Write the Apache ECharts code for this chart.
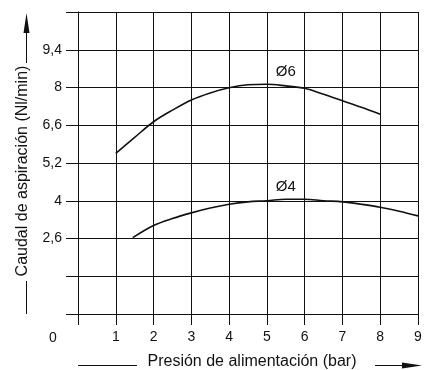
<!DOCTYPE html>
<html>
<head>
<meta charset="utf-8">
<script src="https://cdn.jsdelivr.net/npm/echarts@6/dist/echarts.min.js"></script>
<style>
  html, body { margin: 0; padding: 0; background: #fff; }
  #chart { width: 434px; height: 370px; }
</style>
</head>
<body>
<div id="chart"></div>
<script>
// Supply pressure (bar) and suction flow (Nl/min) for each nozzle size
const pressure6 = [1, 1.5, 2, 2.5, 3, 3.5, 4, 4.5, 5, 5.5, 6, 6.5, 7, 7.5, 8];
const flow6     = [5.56, 6.15, 6.73, 7.16, 7.54, 7.80, 7.99, 8.10, 8.12, 8.06, 7.97, 7.75, 7.51, 7.27, 7.01];
const pressure4 = [1.45, 2, 2.5, 3, 3.5, 4, 4.5, 5, 5.5, 6, 6.5, 7, 7.5, 8, 8.5, 9];
const flow4     = [2.63, 3.08, 3.34, 3.55, 3.73, 3.87, 3.96, 4.00, 4.05, 4.05, 4.00, 3.96, 3.87, 3.76, 3.61, 3.44];

// Pressure axis ticks
const xTickLabels = ['', '1', '2', '3', '4', '5', '6', '7', '8', '9'];
// Flow axis: one entry per grid row from bottom to top (the scale is drawn on equal rows)
const yTickValues = [null, null, 2.6, 4, 5.2, 6.6, 8, 9.4, null];
const yTickLabels = ['', '', '2,6', '4', '5,2', '6,6', '8', '9,4', ''];

const curveNames = ['Ø6', 'Ø4'];
const xTitle = 'Presión de alimentación (bar)';
const yTitle = 'Caudal de aspiración (Nl/min)';

// Map a flow value onto the row scale by interpolating between labelled rows
function toRow(v) {
  const idx = [];
  yTickValues.forEach((t, i) => { if (t !== null) idx.push(i); });
  for (let k = 0; k < idx.length - 1; k++) {
    const a = idx[k], b = idx[k + 1];
    const va = yTickValues[a], vb = yTickValues[b];
    if (v <= vb || k === idx.length - 2) {
      return a + (v - va) / (vb - va) * (b - a);
    }
  }
}

const pairs = (xs, ys) => xs.map((x, i) => [x, toRow(ys[i])]);

const FONT = "'Liberation Sans', Arial, Helvetica, sans-serif";
const INK = '#111';

const chart = echarts.init(document.getElementById('chart'), null, { renderer: 'canvas' });

function curve(name, xs, ys, labelAt, dist) {
  return {
    type: 'line',
    name: name,
    data: pairs(xs, ys),
    smooth: 0.35,
    showSymbol: false,
    silent: true,
    lineStyle: { color: INK, width: 1.6 },
    markPoint: {
      symbol: 'circle',
      symbolSize: 0,
      silent: true,
      data: [{
        coord: [xs[labelAt], toRow(ys[labelAt])],
        label: {
          show: true, position: 'top', distance: dist, formatter: name,
          color: INK, fontSize: 15, fontFamily: FONT
        }
      }]
    }
  };
}

chart.setOption({
  animation: false,
  backgroundColor: '#fff',
  grid: { left: 78, right: 16, top: 12, bottom: 56 },
  xAxis: {
    type: 'value', min: 0, max: 9, interval: 1,
    axisLine: { show: true, lineStyle: { color: INK, width: 1 } },
    axisTick: { show: true, length: 11, lineStyle: { color: INK, width: 1 } },
    axisLabel: {
      margin: 16, fontSize: 14, fontFamily: FONT, color: INK,
      formatter: v => xTickLabels[Math.round(v)] || ''
    },
    splitLine: { show: true, lineStyle: { color: INK, width: 1 } }
  },
  yAxis: {
    type: 'value', min: 0, max: 8, interval: 1,
    axisLine: { show: true, lineStyle: { color: INK, width: 1 } },
    axisTick: { show: true, length: 12, lineStyle: { color: INK, width: 1 } },
    axisLabel: {
      margin: 16, fontSize: 14, fontFamily: FONT, color: INK,
      formatter: v => yTickLabels[Math.round(v)] || ''
    },
    splitLine: { show: true, lineStyle: { color: INK, width: 1 } }
  },
  series: [
    curve(curveNames[0], pressure6, flow6, 9, 7),
    curve(curveNames[1], pressure4, flow4, 8, 5)
  ],
  graphic: [
    // origin label
    { type: 'text', x: 53, y: 338, style: { text: '0', fontSize: 14, fontFamily: FONT, fill: INK, align: 'center', verticalAlign: 'middle' } },
    // horizontal axis title with arrow
    { type: 'text', x: 252, y: 362, style: { text: xTitle, fontSize: 16, fontFamily: FONT, fill: INK, align: 'center', verticalAlign: 'middle' } },
    { type: 'line', shape: { x1: 78, y1: 365.5, x2: 137, y2: 365.5 }, style: { stroke: INK, lineWidth: 1 } },
    { type: 'line', shape: { x1: 375, y1: 365.5, x2: 404, y2: 365.5 }, style: { stroke: INK, lineWidth: 1 } },
    { type: 'polygon', shape: { points: [[422, 365.5], [402, 362.5], [402, 368.5]] }, style: { fill: INK } },
    // vertical axis title with arrow
    { type: 'text', x: 22.5, y: 171, rotation: Math.PI / 2, style: { text: yTitle, fontSize: 16, fontFamily: FONT, fill: INK, align: 'center', verticalAlign: 'middle' } },
    { type: 'line', shape: { x1: 26.5, y1: 281, x2: 26.5, y2: 314 }, style: { stroke: INK, lineWidth: 1 } },
    { type: 'line', shape: { x1: 26.5, y1: 63, x2: 26.5, y2: 31 }, style: { stroke: INK, lineWidth: 1 } },
    { type: 'polygon', shape: { points: [[26.5, 13], [23.5, 33], [29.5, 33]] }, style: { fill: INK } }
  ]
});
</script>
</body>
</html>
